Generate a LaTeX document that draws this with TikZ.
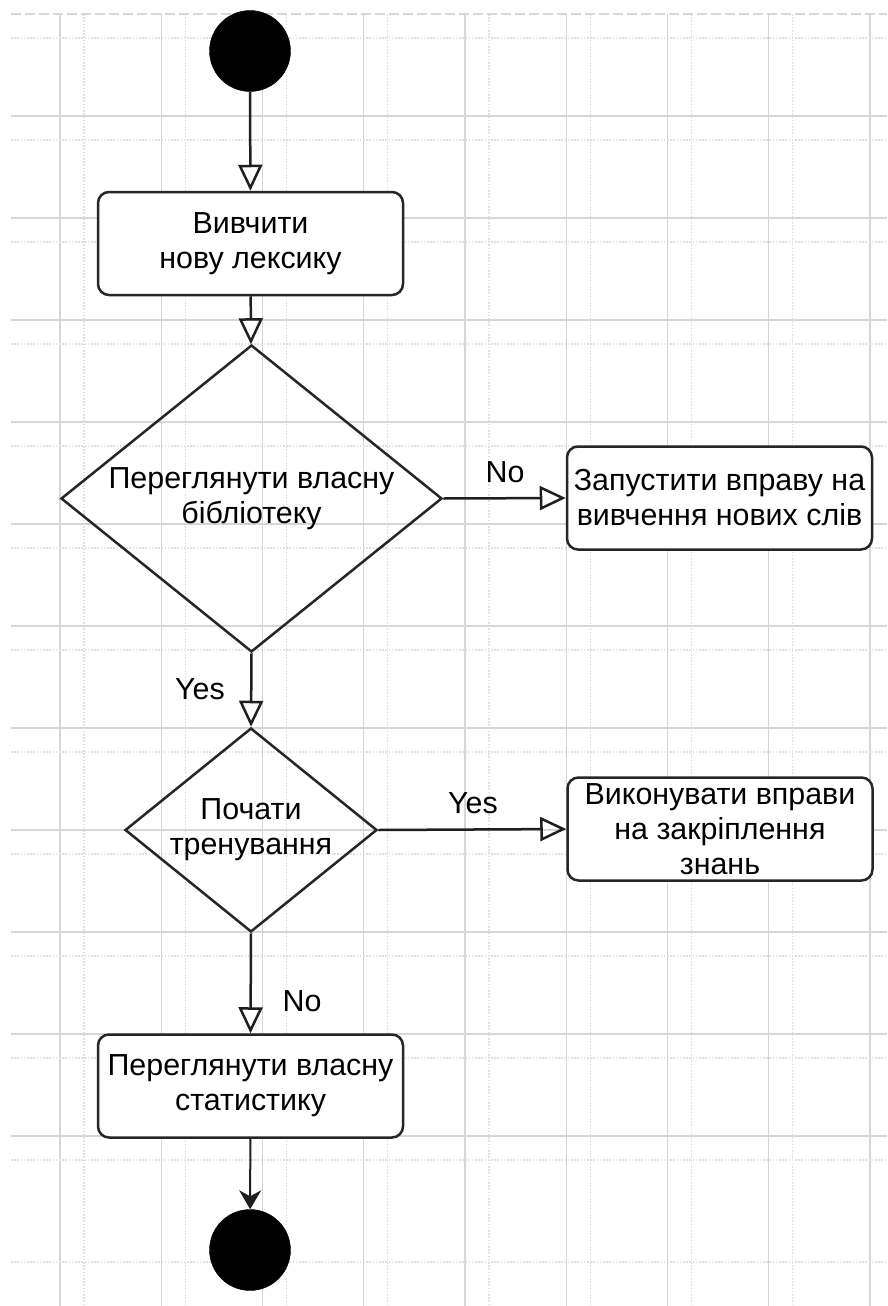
\documentclass[tikz,border=0pt]{standalone}
\usepackage{fontspec}
\setmainfont{Liberation Sans}
\usetikzlibrary{arrows.meta,shapes.geometric}
\begin{document}
\begin{tikzpicture}[x=1pt,y=-1pt,
  every node/.style={font=\fontsize{30.4}{35}\selectfont},
  gridmaj/.style={draw=black!16, line width=1.3pt},
  gridmin/.style={draw=black!12, line width=1.3pt, dash pattern=on 1.6pt off 1.6pt},
  flow/.style={draw=black!88, line width=2.5pt},
  openarrow/.style={-{Triangle[open,length=26pt,width=24pt]}},
  box/.style={draw=black!85, line width=2.5pt, rounded corners=11pt, minimum width=305pt, minimum height=103pt, inner sep=0pt, align=center, fill=white},
  dec/.style={draw=black!85, line width=2.5pt, shape=diamond, inner sep=0pt},
  dot/.style={circle, fill=black, draw=black, minimum size=81pt, inner sep=0pt},
  lbl/.style={inner sep=0pt}
]
\fill[white] (0,0) rectangle (887,1306);
\useasboundingbox (0,0) rectangle (887,1306);
% grid
\foreach \i in {0,...,8} {\draw[gridmaj] ({60+101.25*\i},14) -- ({60+101.25*\i},1306);}
\foreach \i in {0,...,7} {\draw[gridmin] ({84+101.25*\i},14) -- ({84+101.25*\i},1306);}
\foreach \j in {1,...,11} {\draw[gridmaj] (11,{14+102*\j}) -- (887,{14+102*\j});}
\foreach \j in {0,...,12} {\draw[gridmin] (11,{38+102*\j}) -- (887,{38+102*\j});}
\draw[gridmaj, dash pattern=on 10pt off 4pt] (11,14) -- (887,14);
% nodes
\node[dot] (start) at (250,51) {};
\node[box] (learn) at (250.5,243.5) {Вивчити\\нову лексику};
\node[dec, minimum width=381pt, minimum height=307pt,
  label={[align=center]center:{Переглянути власну\\бібліотеку}}] (lib) at (251.5,498.5) {};
\node[box] (run) at (719.5,498) {Запустити вправу на\\вивчення нових слів};
\node[dec, minimum width=252pt, minimum height=204pt,
  label={[align=center]center:{Почати\\тренування}}] (train) at (251,830) {};
\node[box, label={[align=center]center:{Виконувати вправи\\на закріплення\\знань}}] (ex) at (720,829) {};
\node[box] (stat) at (250.5,1086) {Переглянути власну\\статистику};
\node[dot] (end) at (250,1250) {};
% labels
\node[lbl] (lno1) at (505,472) {No};
\node[lbl] (lyes1) at (200,689) {Yes};
\node[lbl] (lyes2) at (473,803) {Yes};
\node[lbl] (lno2) at (302,1001) {No};
% connectors
\draw[flow, openarrow] (start) -- (learn);
\draw[flow, openarrow] (learn) -- (lib);
\draw[flow, openarrow] (lib.east) -- (run.west);
\draw[flow, openarrow] (lib.south) -- (train.north);
\draw[flow, openarrow] (train.east) -- (ex.west);
\draw[flow, openarrow] (train.south) -- (stat.north);
\draw[flow, line width=2pt, -{Stealth[length=19pt,width=22pt,inset=6pt]}] (stat) -- (end);
\end{tikzpicture}
\end{document}
